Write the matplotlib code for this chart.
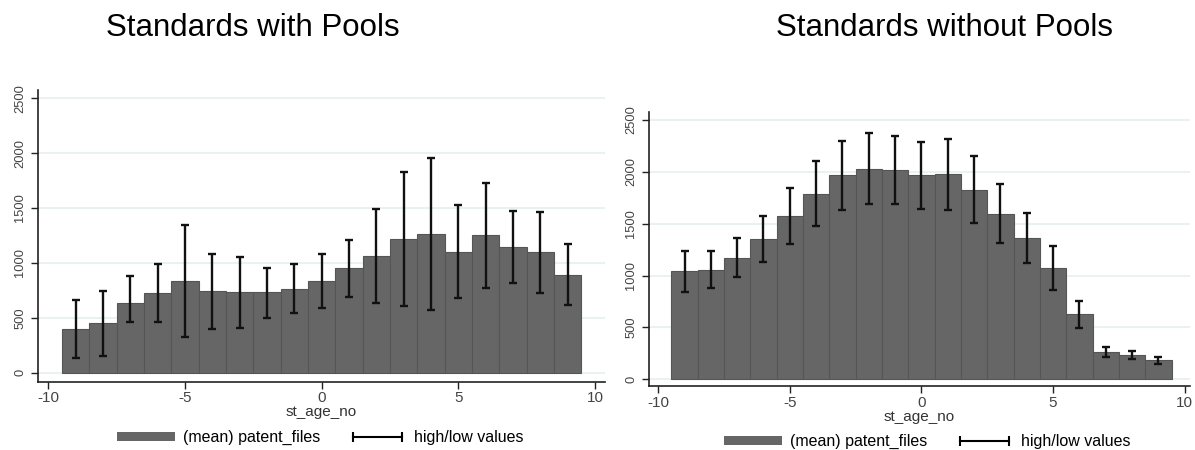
import matplotlib.pyplot as plt
from matplotlib.patches import Patch
from matplotlib.lines import Line2D

plt.rcParams['font.family'] = ['Liberation Sans', 'DejaVu Sans']

st_age_no = [-9, -8, -7, -6, -5, -4, -3, -2, -1, 0, 1, 2, 3, 4, 5, 6, 7, 8, 9]

# Standards with Pools
pools_mean = [395, 450, 632, 723, 835, 741, 732, 732, 766, 838, 954, 1060, 1215, 1264, 1103, 1255, 1142, 1097, 890]
pools_high = [662, 747, 884, 990, 1346, 1078, 1057, 957, 990, 1081, 1212, 1492, 1832, 1953, 1525, 1732, 1470, 1461, 1170]
pools_low = [131, 152, 459, 459, 322, 398, 407, 498, 541, 592, 693, 632, 608, 574, 677, 772, 814, 729, 614]

# Standards without Pools
nopools_mean = [1041, 1057, 1173, 1353, 1574, 1790, 1966, 2031, 2015, 1966, 1976, 1828, 1597, 1359, 1070, 627, 263, 231, 183]
nopools_high = [1234, 1234, 1366, 1578, 1844, 2101, 2300, 2371, 2345, 2291, 2313, 2153, 1887, 1600, 1282, 758, 312, 273, 218]
nopools_low = [842, 884, 983, 1131, 1301, 1478, 1629, 1690, 1687, 1645, 1635, 1504, 1314, 1118, 858, 498, 218, 193, 145]

yticks = [0, 500, 1000, 1500, 2000, 2500]
xticks = [-10, -5, 0, 5, 10]

bar_color = '#666666'
grid_color = '#e6eff1'
tick_color = '#444444'

fig = plt.figure(figsize=(11.95, 4.5), dpi=100)

# title, data, axes rect, xlim, ylim, title left x, legend centre
panels = [
    ('Standards with Pools', pools_mean, pools_high, pools_low,
     [0.032, 0.152, 0.474, 0.648], (-10.37, 10.35), (-82, 2575), 0.089, (0.268, 0.027)),
    ('Standards without Pools', nopools_mean, nopools_high, nopools_low,
     [0.5433, 0.142, 0.4525, 0.610], (-10.34, 10.2), (-65, 2580), 0.649, (0.776, 0.018)),
]

for title, mean, high, low, rect, xlim, ylim, title_x, leg_pos in panels:
    ax = fig.add_axes(rect)
    ax.bar(st_age_no, mean, width=1.0, color=bar_color, edgecolor='#555555',
           linewidth=0.8, zorder=2)
    yerr = [[m - l for m, l in zip(mean, low)], [h - m for m, h in zip(mean, high)]]
    ax.errorbar(st_age_no, mean, yerr=yerr, fmt='none', ecolor='#111111',
                elinewidth=1.7, capsize=2.6, capthick=1.7, zorder=3)
    ax.set_xlim(*xlim)
    ax.set_ylim(*ylim)
    ax.set_xticks(xticks)
    ax.set_xticklabels([str(t) for t in xticks])
    ax.set_yticks(yticks)
    ax.set_yticklabels([str(t) for t in yticks], rotation=90, va='center')
    ax.tick_params(axis='both', length=5, width=1, color='#222222',
                   labelcolor=tick_color)
    ax.tick_params(axis='x', labelsize=11, pad=2)
    ax.tick_params(axis='y', labelsize=9.3)
    ax.yaxis.grid(True, color=grid_color, linewidth=1.2, zorder=0)
    ax.set_axisbelow(True)
    for side in ['top', 'right']:
        ax.spines[side].set_visible(False)
    for side in ['left', 'bottom']:
        ax.spines[side].set_linewidth(1.2)
        ax.spines[side].set_color('#222222')
    ax.set_xlabel('st_age_no', fontsize=11, color='#333333', labelpad=0)

    fig.text(title_x, 0.938, title, fontsize=22.5, ha='left', va='center')

    handles = [Patch(facecolor=bar_color, edgecolor='none', label='(mean) patent_files'),
               Line2D([], [], color='black', linewidth=1.5, marker='|', markersize=7,
                      markeredgewidth=1.5, label='high/low values')]
    fig.legend(handles=handles, loc='center', bbox_to_anchor=leg_pos,
               ncol=2, frameon=False, fontsize=11.5, numpoints=2, handlelength=3.65,
               handleheight=0.55, columnspacing=1.75, handletextpad=0.5)

fig.savefig('out.png', dpi=100)
